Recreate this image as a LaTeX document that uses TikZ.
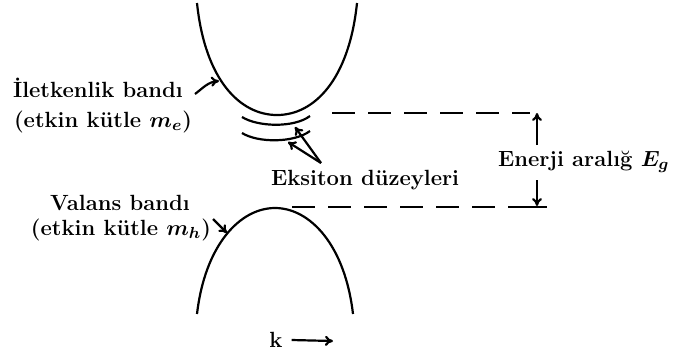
\documentclass[tikz,border=0pt]{standalone}
\usepackage{fontspec}
\usetikzlibrary{arrows.meta}
\begin{document}
\begin{tikzpicture}[x=0.5pt,y=-0.5pt, line width=1.1pt,
  lbl/.style={inner sep=0pt, font=\fontsize{11}{13}\selectfont\bfseries\boldmath},
  tip/.style={-{To[length=4pt,width=5pt]}},
  dsh/.style={dash pattern=on 11.5pt off 6.5pt}]
\useasboundingbox (0,0) rectangle (680,350);
% bands
\draw (197,3) .. controls (205,80) and (240,115) .. (277,115) .. controls (314,115) and (349,80) .. (357,3);
\draw (197,314) .. controls (205,245) and (240,208) .. (275,208) .. controls (310,208) and (345,245) .. (353,314);
% exciton levels
\draw (242,117) .. controls (258,127) and (294,128) .. (310,116);
\draw (242,133) .. controls (258,143) and (294,143) .. (310,131);
% labels
\node[lbl, anchor=west] (cb) at (12,88) {İletkenlik bandı};
\node[lbl, anchor=west] (cbm) at (13,122) {(etkin kütle $m_e$)};
\node[lbl] (vb) at (120,203) {Valans bandı};
\node[lbl] (vbm) at (121,230) {(etkin kütle $m_h$)};
\node[lbl, anchor=base west] (eks) at (270,185) {Eksiton düzeyleri};
\node[lbl, anchor=base west] (en) at (497,166) {Enerji aralığ $E_g$};
\node[lbl] (k) at (276,340) {k};
% label arrows
\coordinate (cbs) at (195,94);
\coordinate (cbt) at (219,81);
\draw[tip] (cbs) .. controls (203,88) and (208,82) .. (cbt);
\coordinate (vbs) at (213,219);
\coordinate (vbt) at (227,233);
\draw[tip] (vbs) -- (vbt);
\coordinate (es) at (321,163);
\coordinate (e1) at (295,127);
\coordinate (e2) at (288,142);
\draw[tip] (es) -- (e1);
\draw[tip] (es) -- (e2);
% dashed levels
\coordinate (d1a) at (332,113);
\coordinate (d1b) at (530,113);
\coordinate (d2a) at (292,207);
\coordinate (d2b) at (530,207);
\coordinate (d2c) at (547,207);
\draw[dsh] (d1a) -- (d1b);
\draw[dsh] (d2a) -- (d2b);
\draw (d2b) -- (d2c);
% gap arrows
\coordinate (g1) at (537,145);
\coordinate (g1t) at (537,113);
\coordinate (g2) at (537,180);
\coordinate (g2t) at (537,206);
\draw[tip] (g1) -- (g1t);
\draw[tip] (g2) -- (g2t);
% k axis
\coordinate (kt) at (333,341);
\draw[tip] ([xshift=4pt]k.east) -- (kt);
\end{tikzpicture}
\end{document}
